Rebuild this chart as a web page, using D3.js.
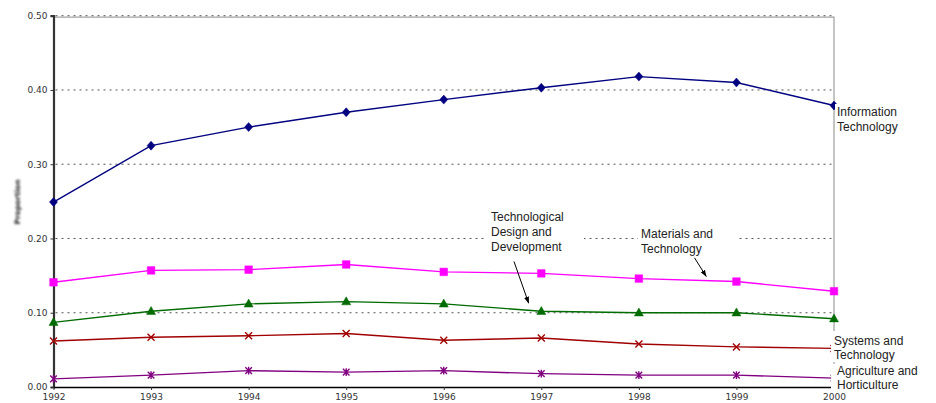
<!DOCTYPE html>
<html>
<head>
<meta charset="utf-8">
<script src="https://cdn.jsdelivr.net/npm/d3@7"></script>
<style>
  html, body { margin: 0; padding: 0; background: #fff; }
  svg { display: block; }
</style>
</head>
<body>
<svg id="chart" width="936" height="403"></svg>
<script>
// Survey years
const years = [1992, 1993, 1994, 1995, 1996, 1997, 1998, 1999, 2000];

// Proportion of candidates for each subject
const infoTech      = [0.249, 0.325, 0.350, 0.370, 0.387, 0.403, 0.418, 0.410, 0.379];
const materialsTech = [0.141, 0.157, 0.158, 0.165, 0.155, 0.153, 0.146, 0.142, 0.129];
const designDev     = [0.087, 0.102, 0.112, 0.115, 0.112, 0.102, 0.100, 0.100, 0.092];
const systemsTech   = [0.062, 0.067, 0.069, 0.072, 0.063, 0.066, 0.058, 0.054, 0.052];
const agriHort      = [0.011, 0.016, 0.022, 0.020, 0.022, 0.018, 0.016, 0.016, 0.012];

const yTicks = [0, 0.1, 0.2, 0.3, 0.4, 0.5];

const series = [
  { name: "Information Technology", values: infoTech,      color: "#000080", marker: "diamond" },
  { name: "Materials and Technology", values: materialsTech, color: "#ff00ff", marker: "square" },
  { name: "Technological Design and Development", values: designDev, color: "#006b00", marker: "triangle" },
  { name: "Systems and Technology", values: systemsTech,   color: "#a00000", marker: "cross" },
  { name: "Agriculture and Horticulture", values: agriHort, color: "#800080", marker: "asterisk" }
];

const svg = d3.select("#chart");
const plotL = 53.5, plotR = 834, plotT = 15.7, plotB = 387;

const x = d3.scaleLinear().domain([1992, 2000]).range([plotL, plotR]);
const y = d3.scaleLinear().domain([0, 0.5]).range([plotB, plotT]);

const defs = svg.append("defs");
defs.append("filter").attr("id", "soft")
  .attr("x", "-50%").attr("y", "-50%").attr("width", "200%").attr("height", "200%")
  .append("feGaussianBlur").attr("stdDeviation", 0.9);
defs.append("marker")
  .attr("id", "arrow").attr("viewBox", "0 0 10 10")
  .attr("refX", 9).attr("refY", 5)
  .attr("markerWidth", 7).attr("markerHeight", 7)
  .attr("markerUnits", "userSpaceOnUse")
  .attr("orient", "auto")
  .append("path").attr("d", "M0,1.5 L10,5 L0,8.5 Z").attr("fill", "#000");

// Plot frame (top and right)
svg.append("line")
  .attr("x1", plotL).attr("x2", plotR).attr("y1", plotT + 1.4).attr("y2", plotT + 1.4)
  .attr("stroke", "#8a8a8a").attr("stroke-width", 1);
svg.append("line")
  .attr("x1", plotR).attr("x2", plotR).attr("y1", plotT + 1).attr("y2", plotB)
  .attr("stroke", "#8a8a8a").attr("stroke-width", 1);

// Dotted horizontal gridlines
svg.append("g")
  .selectAll("line")
  .data(yTicks.filter(d => d > 0))
  .join("line")
  .attr("x1", plotL + 2).attr("x2", plotR)
  .attr("y1", d => y(d)).attr("y2", d => y(d))
  .attr("stroke", "#555").attr("stroke-width", 1)
  .attr("stroke-dasharray", "2,4");

// Y axis
const yAxis = svg.append("g")
  .attr("transform", `translate(${plotL},0)`)
  .call(d3.axisLeft(y).tickValues(yTicks).tickFormat(d3.format(".2f")).tickSize(3).tickPadding(3));
yAxis.select(".domain").attr("stroke", "#333").attr("stroke-width", 2.2);
yAxis.selectAll(".tick line").attr("stroke", "#333");
yAxis.selectAll(".tick text")
  .attr("font-family", "DejaVu Sans").attr("font-size", 9).attr("fill", "#333");

// X axis
const xAxis = svg.append("g")
  .attr("transform", `translate(0,${plotB})`)
  .call(d3.axisBottom(x).tickValues(years).tickFormat(d3.format("d")).tickSize(3).tickSizeOuter(0).tickPadding(4));
xAxis.select(".domain").attr("stroke", "#000").attr("stroke-width", 1.5);
xAxis.selectAll(".tick line").attr("stroke", "#333");
xAxis.selectAll(".tick text")
  .attr("font-family", "DejaVu Sans").attr("font-size", 9).attr("fill", "#333");

// Axis title
svg.append("text")
  .attr("transform", "translate(20,202) rotate(-90)")
  .attr("text-anchor", "middle")
  .attr("font-family", "DejaVu Sans").attr("font-weight", "bold")
  .attr("font-size", 7.5).attr("fill", "#222")
  .attr("filter", "url(#soft)")
  .text("Proportion");

// Lines
const line = d3.line().x((d, i) => x(years[i])).y(d => y(d));
const gSeries = svg.append("g");
series.forEach(s => {
  gSeries.append("path")
    .datum(s.values)
    .attr("d", line)
    .attr("fill", "none")
    .attr("stroke", s.color)
    .attr("stroke-width", 1.4);
});

// Markers
const markerPath = {
  diamond: "M0,-4.5 L4,0 L0,4.5 L-4,0 Z",
  square: "M-3.8,-3.8 H3.8 V3.8 H-3.8 Z",
  triangle: "M0,-4.8 L4.5,3.2 L-4.5,3.2 Z",
  cross: "M-3.5,-3.5 L3.5,3.5 M-3.5,3.5 L3.5,-3.5",
  asterisk: "M-3.3,-3.3 L3.3,3.3 M-3.3,3.3 L3.3,-3.3 M0,-3.8 V3.8"
};
series.forEach(s => {
  const filled = s.marker === "diamond" || s.marker === "square" || s.marker === "triangle";
  gSeries.append("g")
    .selectAll("path")
    .data(s.values)
    .join("path")
    .attr("transform", (d, i) => `translate(${x(years[i])},${y(d)})`)
    .attr("d", markerPath[s.marker])
    .attr("fill", filled ? s.color : "none")
    .attr("stroke", s.color)
    .attr("stroke-width", filled ? 0.5 : 1.4);
});

// Series labels on white boxes
const labels = [
  { lines: ["Information", "Technology"], x: 837, y: 116, gap: 14.8, box: [835, 104, 70, 33] },
  { lines: ["Materials and", "Technology"], x: 641, y: 238, gap: 14.8, box: [638, 227, 100, 30] },
  { lines: ["Technological", "Design and", "Development"], x: 491, y: 221, gap: 14.8, box: [486, 208, 98, 48] },
  { lines: ["Systems and", "Technology"], x: 834, y: 344.5, gap: 14.5, box: [831, 331, 90, 31] },
  { lines: ["Agriculture and", "Horticulture"], x: 837, y: 374.5, gap: 14.2, box: [831, 364, 100, 27] }
];
const gLabels = svg.append("g");
labels.forEach(l => {
  gLabels.append("rect")
    .attr("x", l.box[0]).attr("y", l.box[1])
    .attr("width", l.box[2]).attr("height", l.box[3])
    .attr("fill", "#fff");
  const t = gLabels.append("text")
    .attr("font-family", "Liberation Sans, Arial, sans-serif")
    .attr("font-size", 12).attr("fill", "#222");
  l.lines.forEach((s, i) => {
    t.append("tspan").attr("x", l.x).attr("y", l.y + i * l.gap).text(s);
  });
});

// Pointer arrows
const arrows = [
  { from: [1996.72, 0.169], to: [1996.87, 0.113] },
  { from: [1998.57, 0.174], to: [1998.69, 0.149] }
];
svg.append("g")
  .selectAll("line")
  .data(arrows)
  .join("line")
  .attr("x1", d => x(d.from[0])).attr("y1", d => y(d.from[1]))
  .attr("x2", d => x(d.to[0])).attr("y2", d => y(d.to[1]))
  .attr("stroke", "#000").attr("stroke-width", 1)
  .attr("marker-end", "url(#arrow)");
</script>
</body>
</html>
